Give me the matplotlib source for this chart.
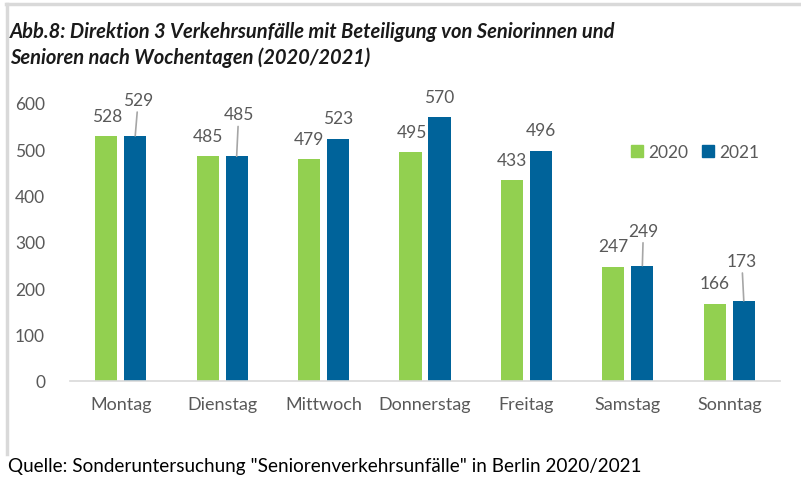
import matplotlib
matplotlib.use("Agg")
import matplotlib.pyplot as plt
import numpy as np
from matplotlib.patches import Patch
from matplotlib.lines import Line2D

# data
days = ["Montag", "Dienstag", "Mittwoch", "Donnerstag", "Freitag", "Samstag", "Sonntag"]
v2020 = [528, 485, 479, 495, 433, 247, 166]
v2021 = [529, 485, 523, 570, 496, 249, 173]

# label layout (pixel offsets from bar top) and leader lines
off2020 = [(1, 20), (0, 20), (0, 20), (1, 20), (0, 20), (0, 21), (0, 21)]
off2021 = [(3, 36), (2, 42), (0, 21), (0, 20), (0, 21), (1, 35), (-2, 40)]
leader2021 = [True, True, False, False, False, True, True]

green = "#92D050"
blue = "#00639A"
grey_txt = "#595959"

plt.rcParams["font.family"] = ["Lato", "DejaVu Sans"]

fig = plt.figure(figsize=(8.01, 4.81), dpi=100)
ax = fig.add_axes([70 / 801, 99 / 481, 710 / 801, 278 / 481])

x = np.arange(len(days))
w = 0.217
d = 0.143
ax.bar(x - d, v2020, width=w, color=green, label="2020")
ax.bar(x + d, v2021, width=w, color=blue, label="2021")

ax.set_xlim(-0.5, len(days) - 0.5)
ax.set_ylim(0, 600)
ax.set_yticks(range(0, 601, 100))
ax.set_xticks(x)
ax.set_xticklabels(days)
ax.tick_params(axis="both", length=0, labelcolor=grey_txt)
ax.tick_params(axis="y", pad=18, labelsize=12.5)
ax.tick_params(axis="x", pad=11, labelsize=13)
for s in ["top", "right", "left"]:
    ax.spines[s].set_visible(False)
ax.spines["bottom"].set_color("#D9D9D9")
ax.spines["bottom"].set_linewidth(1.2)

# data labels
for i in range(len(days)):
    ax.annotate(str(v2020[i]), xy=(x[i] - d, v2020[i]), xytext=off2020[i],
                textcoords="offset pixels", ha="center", va="center",
                fontsize=12.5, color=grey_txt, annotation_clip=False)
    props = None
    if leader2021[i]:
        props = dict(arrowstyle="-", color="#A6A6A6", lw=1.2, shrinkA=1, shrinkB=0)
    ax.annotate(str(v2021[i]), xy=(x[i] + d, v2021[i]), xytext=off2021[i],
                textcoords="offset pixels", ha="center", va="center",
                fontsize=12.5, color=grey_txt, arrowprops=props, annotation_clip=False)

# legend
handles = [Patch(color=green), Patch(color=blue)]
fig.legend(handles, ["2020", "2021"], loc="center left",
           bbox_to_anchor=(631 / 801, 1 - 153 / 481), ncol=2, frameon=False,
           fontsize=12.5, handlelength=0.7, handleheight=0.7, handletextpad=0.3,
           columnspacing=0.8, borderpad=0, borderaxespad=0, labelcolor=grey_txt)

# title and source
fig.text(10 / 801, 1 - 38 / 481, "Abb.8: Direktion 3 Verkehrsunfälle mit Beteiligung von Seniorinnen und",
         fontsize=14.5, fontweight="bold", fontstyle="italic", color="#1A1A1A", va="baseline")
fig.text(10 / 801, 1 - 64 / 481, "Senioren nach Wochentagen (2020/2021)",
         fontsize=14.5, fontweight="bold", fontstyle="italic", color="#1A1A1A", va="baseline")
fig.text(8 / 801, 1 - 472 / 481, "Quelle: Sonderuntersuchung \"Seniorenverkehrsunfälle\" in Berlin 2020/2021",
         fontsize=13.6, color="black", va="baseline")

# frame lines
fig.add_artist(Line2D([6 / 801, 1], [1 - 5 / 481, 1 - 5 / 481], color="#D9D9D9", lw=2.5))
fig.add_artist(Line2D([7 / 801, 7 / 801], [1 - 5 / 481, 1 - 455 / 481], color="#D9D9D9", lw=2.5))

fig.savefig("out.png", dpi=100)
